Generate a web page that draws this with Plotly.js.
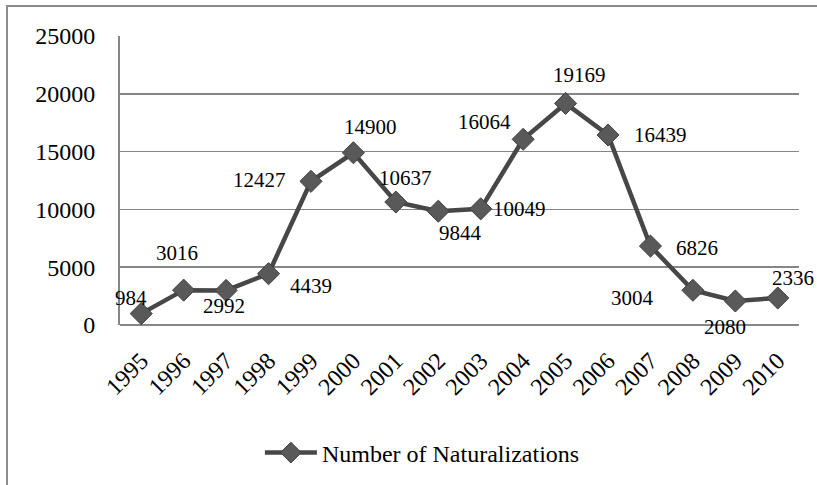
<!DOCTYPE html>
<html>
<head>
<meta charset="utf-8">
<script src="https://cdn.plot.ly/plotly-3.0.1.min.js"></script>
<style>
  html, body { margin: 0; padding: 0; background: #fff; overflow: hidden; }
  #frame { position: absolute; left: 6px; top: 5px; width: 900px; height: 600px; border: 2px solid #8c8c8c; box-sizing: border-box; pointer-events: none; z-index: 5; }
  #chart { position: absolute; left: 0; top: 0; width: 817px; height: 485px; }
</style>
</head>
<body>
<div id="chart"></div>
<div id="frame"></div>
<script>
const years = ['1995','1996','1997','1998','1999','2000','2001','2002','2003','2004','2005','2006','2007','2008','2009','2010'];
const naturalizations = [984, 3016, 2992, 4439, 12427, 14900, 10637, 9844, 10049, 16064, 19169, 16439, 6826, 3004, 2080, 2336];
const seriesName = 'Number of Naturalizations';
const yTicks = [0, 5000, 10000, 15000, 20000, 25000];

// label offsets (px) relative to each point, style only
const labelDx = [-10, -7, -2, 42, -51, 17, 10, 22, 39, -39, 14, 52, 47, -60, -10, 15];
const labelDy = [-16, -37, 16, 12, -1, -26, -24, 22, 0, -17, -28, 0, 2, 8, 26, -20];

const fontFam = '"Liberation Serif", "Times New Roman", serif';

const annotations = years.map((yr, i) => ({
  x: i, y: naturalizations[i], xref: 'x', yref: 'y',
  text: String(naturalizations[i]), showarrow: false,
  xshift: labelDx[i], yshift: -labelDy[i],
  font: {family: fontFam, size: 21, color: '#000'}
}));

const trace = {
  x: years, y: naturalizations, name: seriesName,
  type: 'scatter', mode: 'lines+markers',
  line: {color: '#474747', width: 4.5},
  marker: {symbol: 'diamond', size: 17, color: '#595959', line: {color: '#404040', width: 1}},
  cliponaxis: false
};

const layout = {
  width: 817, height: 485,
  margin: {l: 120, r: 18, t: 36, b: 160},
  paper_bgcolor: '#fff', plot_bgcolor: '#fff',
  font: {family: fontFam, color: '#000', size: 24},
  showlegend: true,
  legend: {orientation: 'h', xref: 'container', yref: 'container', x: 0.517, y: 0.066,
           xanchor: 'center', yanchor: 'middle', font: {family: fontFam, size: 24, color: '#000'},
           itemwidth: 52},
  xaxis: {type: 'category', range: [-0.5, years.length - 0.5], tickangle: -45, showgrid: false, showline: false,
          ticks: '', tickfont: {family: fontFam, size: 24}, fixedrange: true, ticklabelstandoff: 16},
  yaxis: {range: [0, 25000], tickvals: yTicks, ticktext: yTicks.map(String),
          showgrid: true, gridcolor: '#868686', gridwidth: 1.5,
          showline: true, linecolor: '#868686', linewidth: 2,
          zeroline: true, zerolinecolor: '#868686', zerolinewidth: 2,
          ticks: '', ticklabelstandoff: 18, tickfont: {family: fontFam, size: 24}, fixedrange: true},
  annotations: annotations
};

Plotly.newPlot('chart', [trace], layout, {displayModeBar: false, staticPlot: true});
</script>
</body>
</html>
